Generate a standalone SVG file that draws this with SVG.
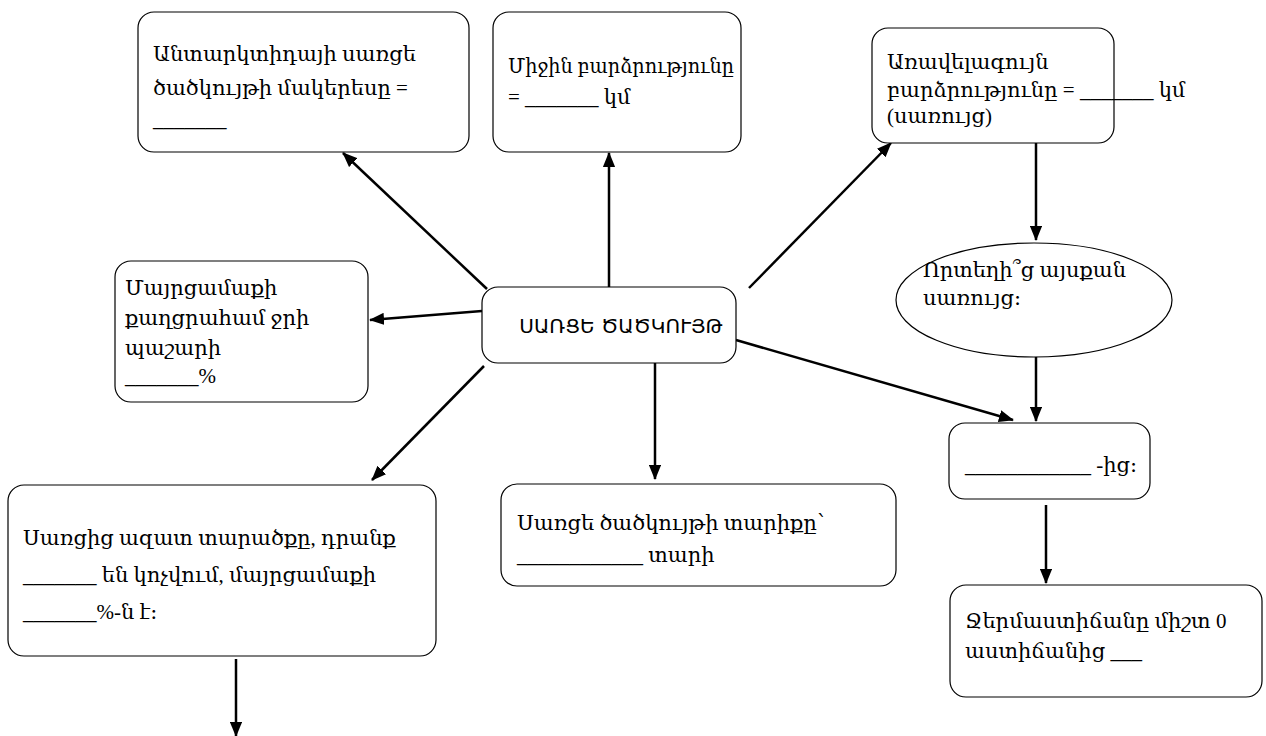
<svg xmlns="http://www.w3.org/2000/svg" width="1266" height="736" viewBox="0 0 1266 736">
<style>
.box{fill:#fff;stroke:#000;stroke-width:1.2}
.t{font-family:"Liberation Serif","DejaVu Serif",serif;font-size:21px;fill:#000}
.title{font-family:"DejaVu Sans","Noto Sans",sans-serif;font-size:20px;fill:#000}
.c line{stroke:#000;stroke-width:2.5;marker-end:url(#ah)}
</style>
<defs>
<marker id="ah" viewBox="0 0 16 13" refX="15" refY="6.5" markerWidth="6" markerHeight="5" orient="auto" markerUnits="strokeWidth">
<path d="M0,0 L16,6.5 L0,13 z" fill="#000"/>
</marker>
</defs>
<rect width="1266" height="736" fill="#fff"/>
<g class="c" id="connectors">
<line x1="487" y1="289" x2="343" y2="153"/>
<line x1="609" y1="287" x2="609" y2="153"/>
<line x1="749" y1="288" x2="891" y2="143"/>
<line x1="482" y1="311" x2="370" y2="320"/>
<line x1="484" y1="366" x2="372" y2="480"/>
<line x1="655" y1="363" x2="655" y2="479"/>
<line x1="736" y1="340" x2="1013" y2="420"/>
<line x1="1036" y1="143" x2="1036" y2="240"/>
<line x1="1036" y1="344" x2="1036" y2="421"/>
<line x1="1046" y1="505" x2="1046" y2="583"/>
<line x1="236" y1="659" x2="236" y2="736"/>
</g>
<g id="n-antarctica">
<rect class="box" x="138" y="12" width="331" height="140" rx="16"/>
<text class="t" x="153" y="61">Անտարկտիդայի սառցե</text>
<text class="t" x="153" y="95">ծածկույթի մակերեսը =</text>
<text class="t" x="153" y="126">_______</text>
</g>
<g id="n-avg">
<rect class="box" x="493" y="12" width="248" height="140" rx="16"/>
<text class="t" x="508" y="73" textLength="226" lengthAdjust="spacingAndGlyphs">Միջին բարձրությունը</text>
<text class="t" x="508" y="104">= _______ կմ</text>
</g>
<g id="n-max">
<rect class="box" x="872" y="28" width="242" height="115" rx="16"/>
<text class="t" x="887" y="69">Առավելագույն</text>
<text class="t" x="887" y="97">բարձրությունը = _______ կմ</text>
<text class="t" x="887" y="123">(սառույց)</text>
</g>
<g id="n-water">
<rect class="box" x="115" y="261" width="253" height="141" rx="16"/>
<text class="t" x="125" y="295">Մայրցամաքի</text>
<text class="t" x="125" y="325">քաղցրահամ ջրի</text>
<text class="t" x="125" y="355">պաշարի</text>
<text class="t" x="125" y="383">_______%</text>
</g>
<g id="n-center">
<rect class="box" x="482" y="287" width="254" height="76" rx="16"/>
<text class="title" x="621" y="333" text-anchor="middle">ՍԱՌՑԵ ԾԱԾԿՈՒՅԹ</text>
</g>
<g id="n-where">
<ellipse class="box" cx="1034" cy="300" rx="138" ry="57"/>
<text class="t" x="923" y="277">Որտեղի՞ց այսքան</text>
<text class="t" x="923" y="305">սառույց։</text>
</g>
<g id="n-from">
<rect class="box" x="949" y="423" width="201" height="76" rx="16"/>
<text class="t" x="965" y="472">____________ -ից։</text>
</g>
<g id="n-temp">
<rect class="box" x="950" y="585" width="312" height="112" rx="16"/>
<text class="t" x="965" y="628">Ջերմաստիճանը միշտ 0</text>
<text class="t" x="965" y="658">աստիճանից  ___</text>
</g>
<g id="n-age">
<rect class="box" x="501" y="484" width="395" height="102" rx="16"/>
<text class="t" x="517" y="530">Սառցե ծածկույթի տարիքը՝</text>
<text class="t" x="517" y="562">____________ տարի</text>
</g>
<g id="n-free">
<rect class="box" x="8" y="485" width="428" height="171" rx="16"/>
<text class="t" x="23" y="545">Սառցից ազատ տարածքը, դրանք</text>
<text class="t" x="23" y="582">_______ են կոչվում, մայրցամաքի</text>
<text class="t" x="23" y="619">_______%-ն է։</text>
</g>
</svg>
